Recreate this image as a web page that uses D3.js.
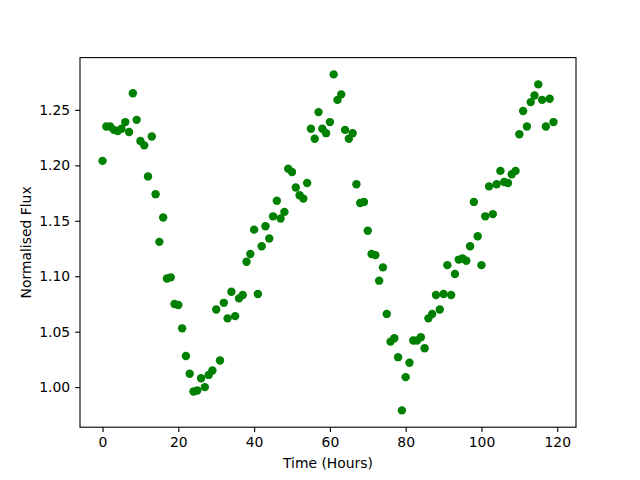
<!DOCTYPE html>
<html>
<head>
<meta charset="utf-8">
<script src="https://cdn.jsdelivr.net/npm/d3@7"></script>
<style>
  body { margin: 0; background: #fff; }
  svg { display: block; font-family: "DejaVu Sans", sans-serif; }
</style>
</head>
<body>
<div id="chart"></div>
<script>
// hourly samples, 0..119
const hours = d3.range(0, 120);
const flux = [
  1.204, 1.235, 1.235, 1.232, 1.231, 1.233, 1.239, 1.230, 1.265, 1.241,
  1.222, 1.218, 1.190, 1.226, 1.174, 1.131, 1.153, 1.098, 1.099, 1.075,
  1.074, 1.053, 1.028, 1.012, 0.996, 0.997, 1.008, 1.000, 1.011, 1.015,
  1.070, 1.024, 1.076, 1.062, 1.086, 1.064, 1.080, 1.083, 1.113, 1.120,
  1.142, 1.084, 1.127, 1.145, 1.134, 1.154, 1.168, 1.152, 1.158, 1.197,
  1.194, 1.180, 1.173, 1.170, 1.184, 1.233, 1.224, 1.248, 1.233, 1.229,
  1.239, 1.282, 1.259, 1.264, 1.232, 1.224, 1.229, 1.183, 1.166, 1.167,
  1.141, 1.120, 1.119, 1.096, 1.108, 1.066, 1.041, 1.044, 1.027, 0.979,
  1.009, 1.022, 1.042, 1.042, 1.045, 1.035, 1.062, 1.066, 1.083, 1.070,
  1.084, 1.110, 1.083, 1.102, 1.115, 1.116, 1.114, 1.127, 1.167, 1.136,
  1.110, 1.154, 1.181, 1.156, 1.183, 1.195, 1.185, 1.184, 1.192, 1.195,
  1.228, 1.249, 1.235, 1.257, 1.263, 1.273, 1.259, 1.235, 1.260, 1.239
];
const xTicks = [0, 20, 40, 60, 80, 100, 120];
const yTicks = [1.00, 1.05, 1.10, 1.15, 1.20, 1.25];

const width = 640, height = 480;
const margin = { top: 57.6, right: 64, bottom: 52.8, left: 80 };

const svg = d3.select('#chart').append('svg')
    .attr('width', width)
    .attr('height', height);

// matplotlib style 5% padding
const xExt = d3.extent(hours), yExt = d3.extent(flux);
const xPad = (xExt[1] - xExt[0]) * 0.05, yPad = (yExt[1] - yExt[0]) * 0.05;

const x = d3.scaleLinear()
    .domain([xExt[0] - xPad, xExt[1] + xPad])
    .range([margin.left, width - margin.right]);
const y = d3.scaleLinear()
    .domain([yExt[0] - yPad, yExt[1] + yPad])
    .range([height - margin.bottom, margin.top]);

const pts = hours.map((h, i) => ({ h: h, f: flux[i] }));

svg.append('g')
    .selectAll('circle')
    .data(pts)
    .enter()
    .append('circle')
    .attr('cx', d => x(d.h))
    .attr('cy', d => y(d.f))
    .attr('r', 4.2)
    .attr('fill', '#008000');

const xAxis = svg.append('g')
    .attr('transform', `translate(0,${height - margin.bottom})`)
    .call(d3.axisBottom(x).tickValues(xTicks).tickSize(4.9).tickPadding(4.9)
        .tickFormat(d3.format('d')));
const yAxis = svg.append('g')
    .attr('transform', `translate(${margin.left},0)`)
    .call(d3.axisLeft(y).tickValues(yTicks).tickSize(4.9).tickPadding(4.9)
        .tickFormat(d3.format('.2f')));

[xAxis, yAxis].forEach(g => {
    g.select('.domain').remove();
    g.selectAll('line').attr('stroke', '#000').attr('stroke-width', 1.1);
    g.selectAll('text').attr('font-size', '13.9px').attr('fill', '#000')
        .attr('font-family', '"DejaVu Sans", sans-serif');
});

// frame
svg.append('rect')
    .attr('x', margin.left)
    .attr('y', margin.top)
    .attr('width', width - margin.left - margin.right)
    .attr('height', height - margin.top - margin.bottom)
    .attr('fill', 'none')
    .attr('stroke', '#000')
    .attr('stroke-width', 1.1);

svg.append('text')
    .attr('x', (margin.left + width - margin.right) / 2)
    .attr('y', 468)
    .attr('text-anchor', 'middle')
    .attr('font-size', '13.9px')
    .text('Time (Hours)');

svg.append('text')
    .attr('transform', `translate(31,${(margin.top + height - margin.bottom) / 2}) rotate(-90)`)
    .attr('text-anchor', 'middle')
    .attr('font-size', '13.9px')
    .text('Normalised Flux');
</script>
</body>
</html>
